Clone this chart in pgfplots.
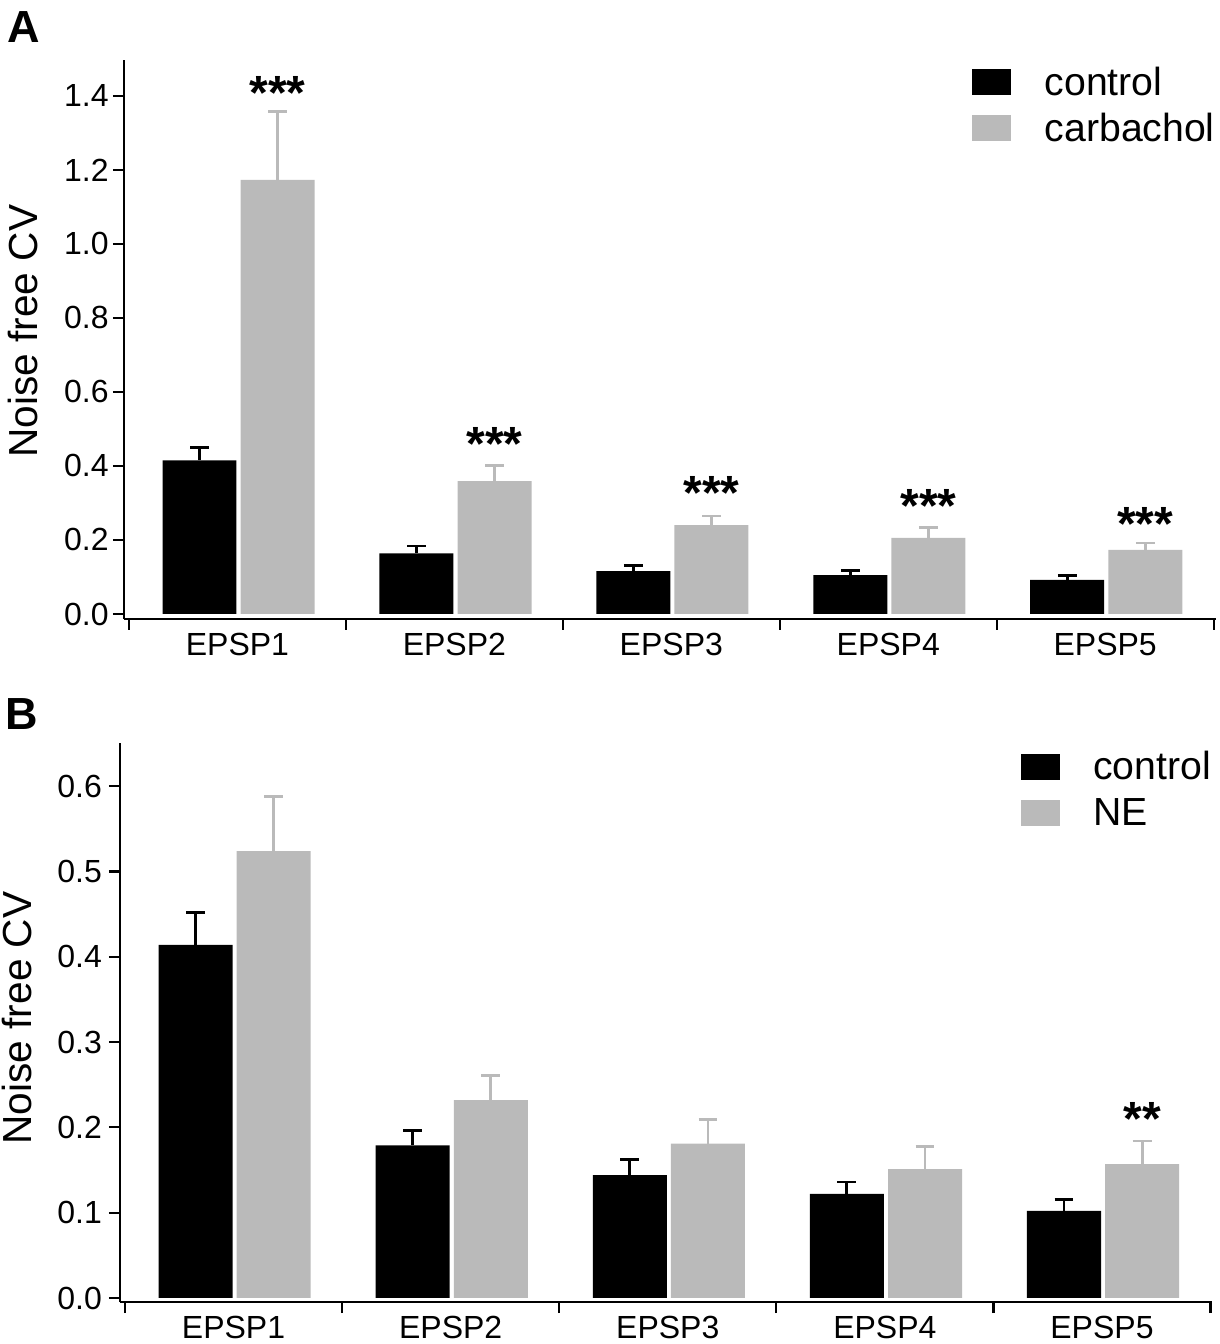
\documentclass[border=0pt]{standalone}
\usepackage{fontspec}
\setmainfont{Liberation Sans}
\usepackage{pgfplots}
\usepackage{pgfplotstable}
\pgfplotsset{compat=1.18}
\definecolor{barg}{RGB}{186,186,186}

\pgfplotstableread{
x y e
1 0.415 0.035
2 0.164 0.020
3 0.116 0.015
4 0.105 0.013
5 0.092 0.011
}\Actrl
\pgfplotstableread{
x y e
1 1.173 0.184
2 0.359 0.042
3 0.240 0.025
4 0.206 0.028
5 0.173 0.019
}\Acarb
\pgfplotstableread{
x y e
1 0.414 0.038
2 0.179 0.017
3 0.144 0.018
4 0.122 0.014
5 0.102 0.013
}\Bctrl
\pgfplotstableread{
x y e
1 0.524 0.064
2 0.232 0.029
3 0.181 0.028
4 0.151 0.027
5 0.157 0.027
}\Bne

\tikzset{stars/.style={anchor=base, inner sep=0pt, font=\fontsize{24}{28}\selectfont\bfseries}}

\pgfplotsset{
  panel/.style={
    scale only axis, width=545.8pt, height=279.5pt,
    axis x line=bottom, axis y line=left,
    axis line style={-, line width=1.1pt, black},
    tick align=outside, major tick length=5.5pt, minor tick length=5.5pt,
    tick style={line width=1.1pt, black},
    xtick={1,2,3,4,5}, xticklabels={EPSP1,EPSP2,EPSP3,EPSP4,EPSP5},
    major x tick style={draw=none},
    minor xtick={0.5,1.5,2.5,3.5,4.5,5.5},
    ybar, bar width=0.341,
    ticklabel style={font=\fontsize{16}{19}\selectfont},
    /pgf/number format/assume math mode=true,
    yticklabel style={/pgf/number format/fixed, /pgf/number format/fixed zerofill, /pgf/number format/precision=1},
    xticklabel style={yshift=2pt},
    ylabel={Noise free CV},
    ylabel style={font=\fontsize{20.3}{24}\selectfont, anchor=center},
    legend style={draw=none, fill=none, inner sep=0pt, outer sep=0pt,
      nodes={inner sep=0pt}, font=\fontsize{19.6}{23}\selectfont,
      column sep=17pt, row sep=7.4pt, anchor=north west, legend cell align=left},
    clip=false,
  },
  ctrlbar/.style={fill=black, draw=none, bar shift=-0.175, forget plot,
    error bars/.cd, y dir=plus, y explicit,
    error bar style={draw=black, line width=1.4pt},
    error mark options={rotate=90, mark size=4.7pt, line width=1.4pt, draw=black}},
  trtbar/.style={fill=barg, draw=none, bar shift=0.185, forget plot,
    error bars/.cd, y dir=plus, y explicit,
    error bar style={draw=barg, line width=1.4pt},
    error mark options={rotate=90, mark size=4.7pt, line width=1.4pt, draw=barg}},
}

\begin{document}
\begin{tikzpicture}
\path[use as bounding box] (0,0) rectangle (610pt,672pt);

\begin{axis}[panel, at={(62pt,362.5pt)}, anchor=south west,
  xmin=0.477, xmax=5.509, ymin=-0.0135, ymax=1.497,
  ytick={0,0.2,0.4,0.6,0.8,1.0,1.2,1.4},
  yticklabel style={inner sep=2pt},
  ylabel style={at={(axis description cs:-0.0925,0.515)}},
  legend style={at={(axis description cs:0.7768,0.9875)}}]
\addplot[ctrlbar] table[x=x, y=y, y error=e] {\Actrl};
\addplot[trtbar] table[x=x, y=y, y error=e] {\Acarb};
\addlegendimage{legend image code/.code={\fill[black] (0pt,-6pt) rectangle (19pt,6.5pt);}}
\addlegendentry{control}
\addlegendimage{legend image code/.code={\fill[barg] (0pt,-6pt) rectangle (19pt,6.5pt);}}
\addlegendentry{carbachol}
\node[stars] at (axis cs:1.185,1.363) {***};
\node[stars] at (axis cs:2.185,0.415) {***};
\node[stars] at (axis cs:3.185,0.283) {***};
\node[stars] at (axis cs:4.185,0.247) {***};
\node[stars] at (axis cs:5.185,0.199) {***};
\end{axis}

\begin{axis}[panel, at={(60pt,21pt)}, anchor=south west,
  xmin=0.477, xmax=5.505, ymin=-0.0047, ymax=0.6506,
  ytick={0,0.1,0.2,0.3,0.4,0.5,0.6},
  ylabel style={at={(axis description cs:-0.0944,0.508)}},
  legend style={at={(axis description cs:0.825,0.985)}, row sep=7.7pt}]
\addplot[ctrlbar] table[x=x, y=y, y error=e] {\Bctrl};
\addplot[trtbar] table[x=x, y=y, y error=e] {\Bne};
\addlegendimage{legend image code/.code={\fill[black] (0pt,-6pt) rectangle (19pt,6.5pt);}}
\addlegendentry{control}
\addlegendimage{legend image code/.code={\fill[barg] (0pt,-6pt) rectangle (19pt,6.5pt);}}
\addlegendentry{NE}
\node[stars] at (axis cs:5.185,0.1904) {**};
\end{axis}

\node[anchor=base west, inner sep=0pt, font=\fontsize{22.5}{27}\selectfont\bfseries] at (3.5pt,650.6pt) {A};
\node[anchor=base west, inner sep=0pt, font=\fontsize{22.5}{27}\selectfont\bfseries] at (2.5pt,307pt) {B};
\end{tikzpicture}
\end{document}
